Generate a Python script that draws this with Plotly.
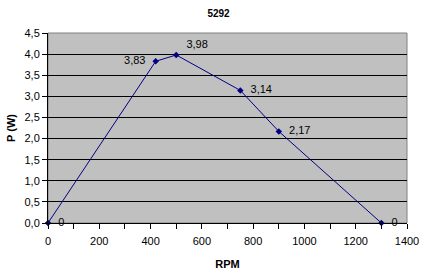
import plotly.graph_objects as go

rpm = [0, 420, 500, 750, 900, 1300]
power = [0, 3.83, 3.98, 3.14, 2.17, 0]
labels = ["0", "3,83", "3,98", "3,14", "2,17", "0"]
label_pos = ["middle right", "middle left", "top right", "middle right", "middle right", "middle right"]

font = "Liberation Sans, Arial, sans-serif"

fig = go.Figure()
fig.add_trace(go.Scatter(
    x=rpm, y=power, mode="lines+markers+text",
    line=dict(color="#000080", width=1),
    marker=dict(symbol="diamond", size=5, color="#000080"),
    text=["  " + t for t in labels[:1]] + [labels[1] + "  "] + ["  " + t for t in labels[2:]],
    textposition=label_pos,
    textfont=dict(family=font, size=11, color="black"),
    cliponaxis=False,
    showlegend=False,
))

fig.add_shape(type="rect", xref="paper", yref="paper", x0=0, y0=0, x1=1, y1=1,
              line=dict(color="#808080", width=1), layer="below")

fig.update_layout(
    width=437, height=280,
    margin=dict(l=48, r=30, t=33, b=57),
    paper_bgcolor="white",
    plot_bgcolor="#C0C0C0",
    separators=",.",
    title=dict(text="<b>5292</b>", x=0.5, xanchor="center", xref="container",
               y=1 - 13 / 280, yref="container", yanchor="middle",
               font=dict(family=font, size=10, color="black")),
    font=dict(family=font, size=11, color="black"),
    xaxis=dict(
        range=[0, 1400], dtick=200, tick0=0,
        ticks="outside", ticklen=5, tickcolor="black",
        ticklabelstandoff=3, automargin=False,
        showgrid=False, zeroline=False,
        showline=True, linecolor="black", linewidth=1,
        minor=dict(dtick=100, ticks="outside", ticklen=5, tickcolor="black", showgrid=False),
        tickfont=dict(family=font, size=11),
        title=dict(text="<b>RPM</b>", font=dict(family=font, size=11), standoff=14),
    ),
    yaxis=dict(
        range=[0, 4.5], dtick=0.5, tick0=0, tickformat=".1f",
        ticks="outside", ticklen=5, tickcolor="black",
        automargin=False,
        showgrid=True, gridcolor="black", gridwidth=1,
        zeroline=False,
        showline=True, linecolor="black", linewidth=1,
        tickfont=dict(family=font, size=11),
        title=dict(text="<b>P (W)</b>", font=dict(family=font, size=11), standoff=6),
    ),
)

fig.write_html("out.html")
